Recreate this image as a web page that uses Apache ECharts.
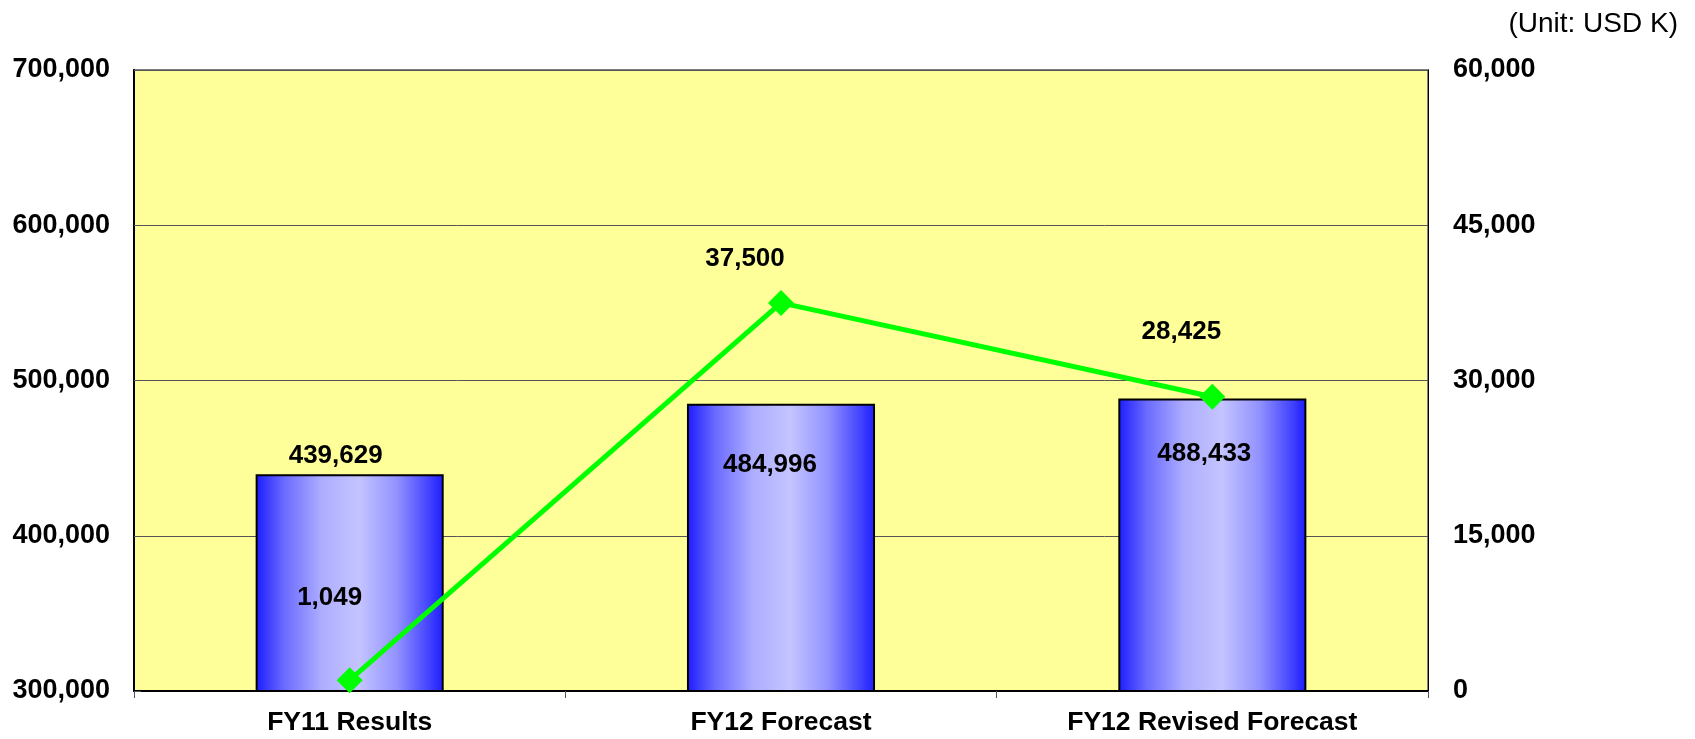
<!DOCTYPE html>
<html>
<head>
<meta charset="utf-8">
<script src="https://cdn.jsdelivr.net/npm/echarts@6/dist/echarts.min.js"></script>
<style>
  html, body { margin: 0; padding: 0; background: #fff; }
  #chart { width: 1695px; height: 739px; }
</style>
</head>
<body>
<div id="chart"></div>
<script>
// data
var categories = ['FY11 Results', 'FY12 Forecast', 'FY12 Revised Forecast'];
var salesValues = [439629, 484996, 488433];
var profitValues = [1049, 37500, 28425];
var leftTicks = { min: 300000, max: 700000, interval: 100000 };
var rightTicks = { min: 0, max: 60000, interval: 15000 };

// label placement
var barLabelPos = [
  { position: 'top', offset: [-14, 0] },
  { position: 'insideTop', distance: 48, offset: [-11, 0] },
  { position: 'insideTop', distance: 42, offset: [-8, 0] }
];
var lineLabelOffset = [[-20, -51], [-36, -13], [-31, -34]];

function fmt(v) {
  return v.toLocaleString('en-US');
}

var barFill = new echarts.graphic.LinearGradient(0, 0, 1, 0, [
  { offset: 0, color: '#1c1cff' },
  { offset: 0.15, color: '#6a6aff' },
  { offset: 0.35, color: '#adadff' },
  { offset: 0.55, color: '#c4c4ff' },
  { offset: 0.75, color: '#9292ff' },
  { offset: 0.92, color: '#4444ff' },
  { offset: 1, color: '#1c1cff' }
]);

var labelFont = {
  fontFamily: '"Liberation Sans", Arial, sans-serif',
  fontWeight: 'bold',
  fontSize: 27,
  color: '#000'
};

var chart = echarts.init(document.getElementById('chart'));
var option = {
  animation: false,
  textStyle: { fontFamily: '"Liberation Sans", Arial, sans-serif' },
  title: {
    text: '(Unit: USD K)',
    right: 12,
    top: 5,
    textStyle: { fontSize: 28, fontWeight: 'normal', color: '#000' }
  },
  grid: {
    left: 134,
    top: 70,
    right: 267,
    bottom: 48,
    show: true,
    backgroundColor: '#ffff99',
    borderColor: '#808080',
    borderWidth: 2
  },
  xAxis: {
    type: 'category',
    data: categories,
    axisLine: { lineStyle: { color: '#000', width: 2 } },
    axisTick: { show: true, alignWithLabel: false, length: 7, lineStyle: { color: '#555' } },
    axisLabel: Object.assign({ margin: 18 }, labelFont, { fontSize: 26.5 })
  },
  yAxis: [
    {
      type: 'value',
      min: leftTicks.min,
      max: leftTicks.max,
      interval: leftTicks.interval,
      axisLine: { show: true, lineStyle: { color: '#000', width: 2 } },
      axisTick: { show: true, inside: true, length: 7, lineStyle: { color: '#555' } },
      splitLine: { lineStyle: { color: '#555', width: 1 } },
      axisLabel: Object.assign({ margin: 24, formatter: fmt }, labelFont)
    },
    {
      type: 'value',
      min: rightTicks.min,
      max: rightTicks.max,
      interval: rightTicks.interval,
      axisLine: { show: true, lineStyle: { color: '#000', width: 1 } },
      axisTick: { show: false },
      splitLine: { show: false },
      axisLabel: Object.assign({ margin: 25, formatter: fmt }, labelFont)
    }
  ],
  series: [
    {
      type: 'bar',
      yAxisIndex: 0,
      barWidth: '43.6%',
      z: 2,
      itemStyle: { color: barFill, borderColor: '#000', borderWidth: 2 },
      data: salesValues.map(function (v, i) {
        return {
          value: v,
          label: Object.assign({ show: true, formatter: fmt(v) }, labelFont, { fontSize: 26 }, barLabelPos[i])
        };
      })
    },
    {
      type: 'line',
      yAxisIndex: 1,
      z: 3,
      symbol: 'diamond',
      symbolSize: 26,
      lineStyle: { color: '#00ff00', width: 5 },
      itemStyle: { color: '#00ff00' },
      data: profitValues.map(function (v, i) {
        return {
          value: v,
          label: Object.assign({
            show: true,
            position: 'top',
            distance: 5,
            offset: lineLabelOffset[i],
            formatter: fmt(v)
          }, labelFont, { fontSize: 26 })
        };
      })
    }
  ]
};
chart.setOption(option);
</script>
</body>
</html>
